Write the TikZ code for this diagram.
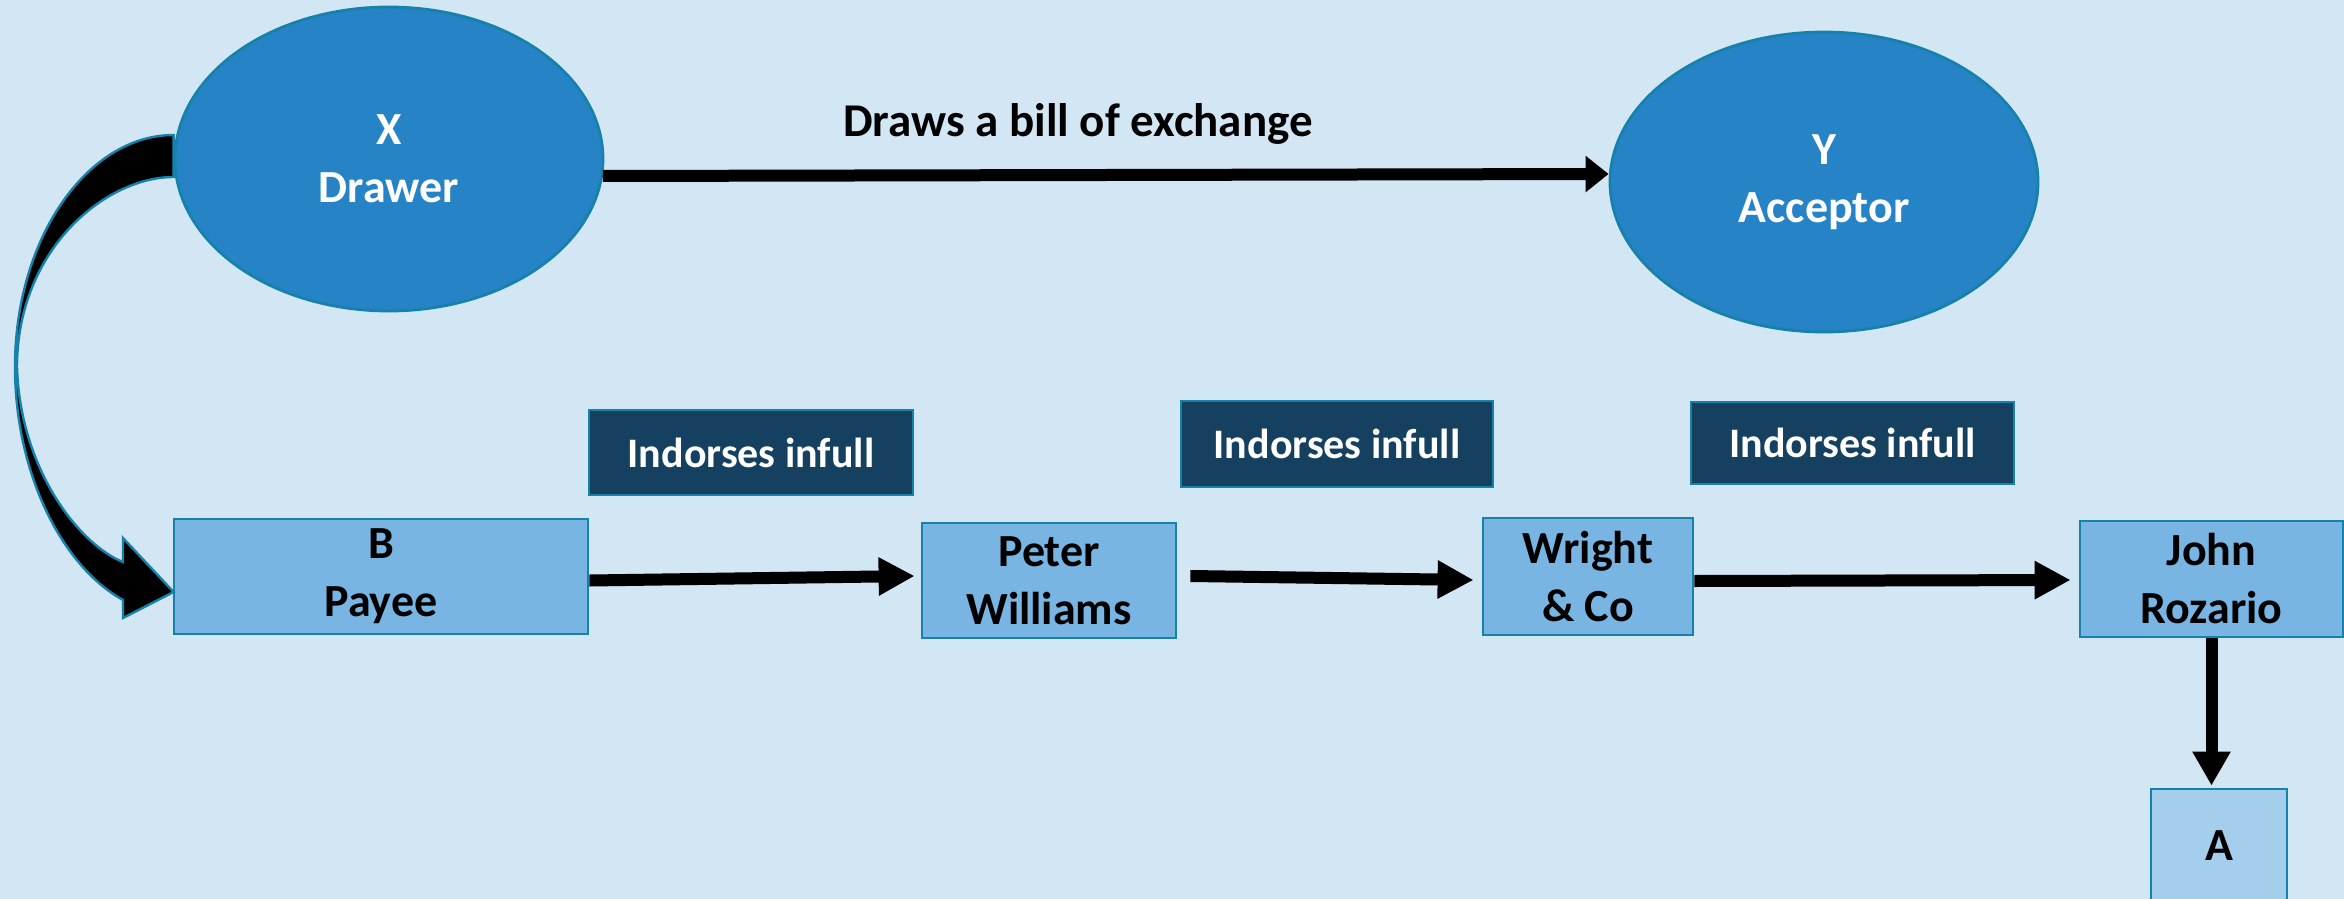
\documentclass[tikz,border=0pt]{standalone}
\usepackage{fontspec}
\setmainfont{Carlito}
\usetikzlibrary{arrows.meta,calc,shapes.geometric}

\definecolor{bgblue}{HTML}{D3E6F4}
\definecolor{ellfill}{HTML}{2683C6}
\definecolor{edge}{HTML}{1682AB}
\definecolor{boxfill}{HTML}{78B5E2}
\definecolor{boxlight}{HTML}{A5CEEC}
\definecolor{darkbox}{HTML}{15405F}

\begin{document}
\begin{tikzpicture}[x=0.5pt,y=-0.5pt,
  party/.style={ellipse, draw=edge, line width=1.4pt, fill=ellfill, text=white,
    font=\bfseries\fontsize{23}{29}\selectfont, align=center, inner sep=0pt},
  holder/.style={rectangle, draw=edge, line width=1.4pt, fill=boxfill, text=black,
    font=\bfseries\fontsize{23}{29}\selectfont, align=center, inner sep=0pt},
  note/.style={rectangle, draw=edge, line width=1.4pt, fill=darkbox, text=white,
    font=\bfseries\fontsize{21}{25}\selectfont, inner sep=0pt},
  flow/.style={line width=6pt, -{Triangle[length=18pt,width=18pt]}},
]
% canvas
\fill[bgblue] (0,0) rectangle (2344,899);
\useasboundingbox (0,0) rectangle (2344,899);

% drawer and acceptor
\node[party, minimum width=214pt, minimum height=152pt] (x) at (389,159) {X\\Drawer};
\node[party, minimum width=214pt, minimum height=150pt] (y) at (1824,182) {Y\\Acceptor};
\node[font=\bfseries\fontsize{23.5}{28}\selectfont, anchor=base, inner sep=0pt] (lbl) at (1078,137) {Draws a bill of exchange};

% indorsement captions
\node[note, minimum width=162pt, minimum height=42.5pt] (n1) at (751,452.5) {Indorses infull};
\node[note, minimum width=156pt, minimum height=43pt] (n2) at (1337,444) {Indorses infull};
\node[note, minimum width=161.5pt, minimum height=41pt] (n3) at (1852.5,443) {Indorses infull};

% holders of the bill
\node[holder, minimum width=207pt, minimum height=57.5pt] (b) at (381,576.5) {B\\Payee};
\node[holder, minimum width=127pt, minimum height=57.5pt] (pw) at (1049,580.5) {Peter\\Williams};
\node[holder, minimum width=105pt, minimum height=58.5pt] (wc) at (1588,576.5) {Wright\\\& Co};
\node[holder, minimum width=131.5pt, minimum height=58pt] (jr) at (2211.5,579) {John\\Rozario};
\node[holder, fill=boxlight, minimum width=68pt, minimum height=57pt] (a) at (2219,846) {A};

% X draws on Y
\draw[line width=6pt, -{Triangle[length=11.5pt,width=17.5pt]}]
  ($(x.east)+(-1.5,17)$) -- ($(y.west)+(0,-8)$);

% curved block arrow from X down to B
\filldraw[fill=black, draw=edge, line width=1.2pt, line join=miter]
  ($(x.west)+(0,-24)$) .. controls (87,135) and (15,239) .. (15,367)
  .. controls (15,470) and (60,565) .. (123,600)
  -- (123,618) -- ($(b.west)+(1,15.5)$) -- (123,538) -- (123,562)
  .. controls (80,545) and (20,470) .. (17,367)
  .. controls (17,250) and (105,177) .. ($(x.west)+(0,18)$) -- cycle;

% chain of indorsements
\draw[flow] ($(b.east)+(0,4)$) -- ($(pw.west)+(-6,-4.5)$);
\draw[flow] ($(pw.east)+(13,-4.5)$) -- ($(wc.west)+(-8,3.5)$);
\draw[flow] ($(wc.east)+(0,4.5)$) -- ($(jr.west)+(-8,1)$);
\draw[line width=6pt, -{Triangle[length=17pt,width=18pt]}]
  (jr.south) -- ($(jr.south |- a.north)+(0,-2)$);
\end{tikzpicture}
\end{document}
